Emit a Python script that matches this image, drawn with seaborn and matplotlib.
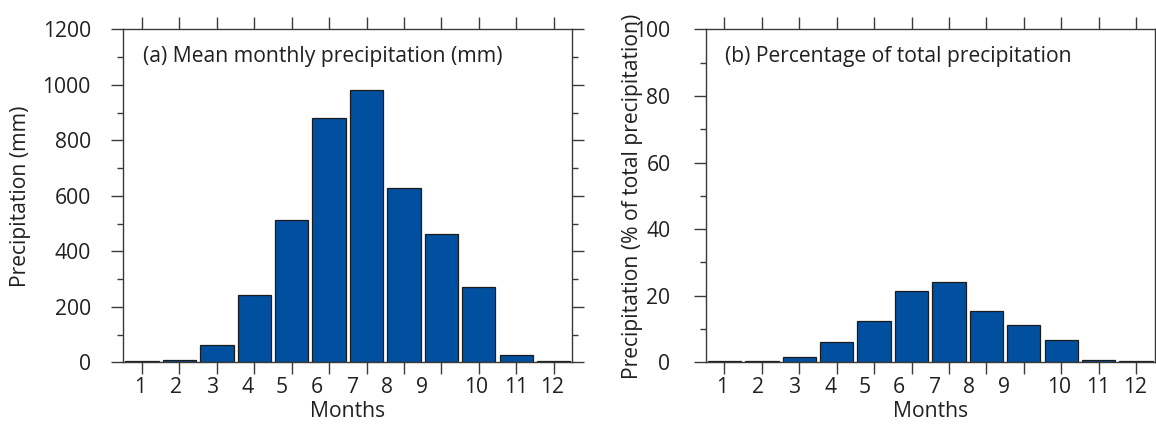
import numpy as np
import pandas as pd
import seaborn as sns
import matplotlib.ticker as mtick
from matplotlib import pyplot as plt

# values
months = [1, 2, 3, 4, 5, 6, 7, 8, 9, 10, 11, 12]
precip_mm = [5, 9, 64, 243, 513, 880, 981, 628, 462, 272, 26, 3]
precip_pct = [0.4, 0.4, 1.6, 6.0, 12.5, 21.5, 24.1, 15.3, 11.2, 6.6, 0.7, 0.4]

# the month labels in the original drift a bit left of their ticks
label_pos = [0.95, 1.91, 2.90, 3.83, 4.74, 5.67, 6.63, 7.54, 8.47, 9.94, 11.0, 11.97]

BAR = '#01509f'
INK = '#231f20'
SPINE = '#3a3a3a'

sns.set_style('ticks')
plt.rcParams['font.family'] = ['Open Sans', 'DejaVu Sans']
plt.rcParams['font.size'] = 15.2
plt.rcParams['text.color'] = INK
plt.rcParams['axes.labelcolor'] = INK
plt.rcParams['xtick.color'] = SPINE
plt.rcParams['ytick.color'] = SPINE
plt.rcParams['xtick.labelcolor'] = INK
plt.rcParams['ytick.labelcolor'] = INK

df = pd.DataFrame({'month': months, 'mm': precip_mm, 'pct': precip_pct})

fig = plt.figure(figsize=(11.56, 4.30), dpi=100)
ax1 = fig.add_axes([0.1067, 0.1574, 0.3884, 0.774])
ax2 = fig.add_axes([0.6105, 0.1574, 0.3884, 0.774])


def style_axis(ax, col, ymax, major, minor, title, ylabel, ylab_x, ypad):
    sns.barplot(data=df, x='month', y=col, color=BAR, width=0.89, edgecolor='#1c1c1c',
                linewidth=0.9, saturation=1, ax=ax)
    ax.set_xlim(-0.5, 11.5)
    ax.set_ylim(0, ymax)
    for s in ax.spines.values():
        s.set_visible(True)
        s.set_color(SPINE)
        s.set_linewidth(1.0)

    # tick marks at bar centres, labels placed separately (minor, no mark)
    ax.xaxis.remove_overlapping_locs = False
    ax.set_xticks(np.arange(12))
    ax.set_xticklabels([''] * 12)
    ax.set_xticks([p - 1 for p in label_pos], minor=True)
    ax.set_xticklabels([str(m) for m in months], minor=True)
    ax.tick_params(axis='x', which='major', direction='out', length=8.3, width=1.0,
                   top=True, bottom=True)
    ax.tick_params(axis='x', which='minor', length=0, pad=10.5, top=False)

    ax.yaxis.set_major_locator(mtick.MultipleLocator(major))
    ax.yaxis.set_minor_locator(mtick.MultipleLocator(minor))
    ax.tick_params(axis='y', which='major', direction='out', length=8.3, width=1.0,
                   left=True, right=True, pad=ypad)
    ax.tick_params(axis='y', which='minor', direction='out', length=4.0, width=1.0,
                   left=True, right=True)

    ax.set_xlabel('Months')
    ax.xaxis.set_label_coords(0.5, -0.117)
    ax.set_ylabel(ylabel)
    ax.yaxis.set_label_coords(ylab_x, 0.5)
    ax.text(0.043, 0.903, title, transform=ax.transAxes, ha='left', va='baseline')


style_axis(ax1, 'mm', 1200, 200, 100, '(a) Mean monthly precipitation (mm)',
           'Precipitation (mm)', -0.205, 15)
style_axis(ax2, 'pct', 100, 20, 10, '(b) Percentage of total precipitation',
           'Precipitation (% of total precipitation)', -0.14, 17)

plt.savefig('out.png', dpi=100)
